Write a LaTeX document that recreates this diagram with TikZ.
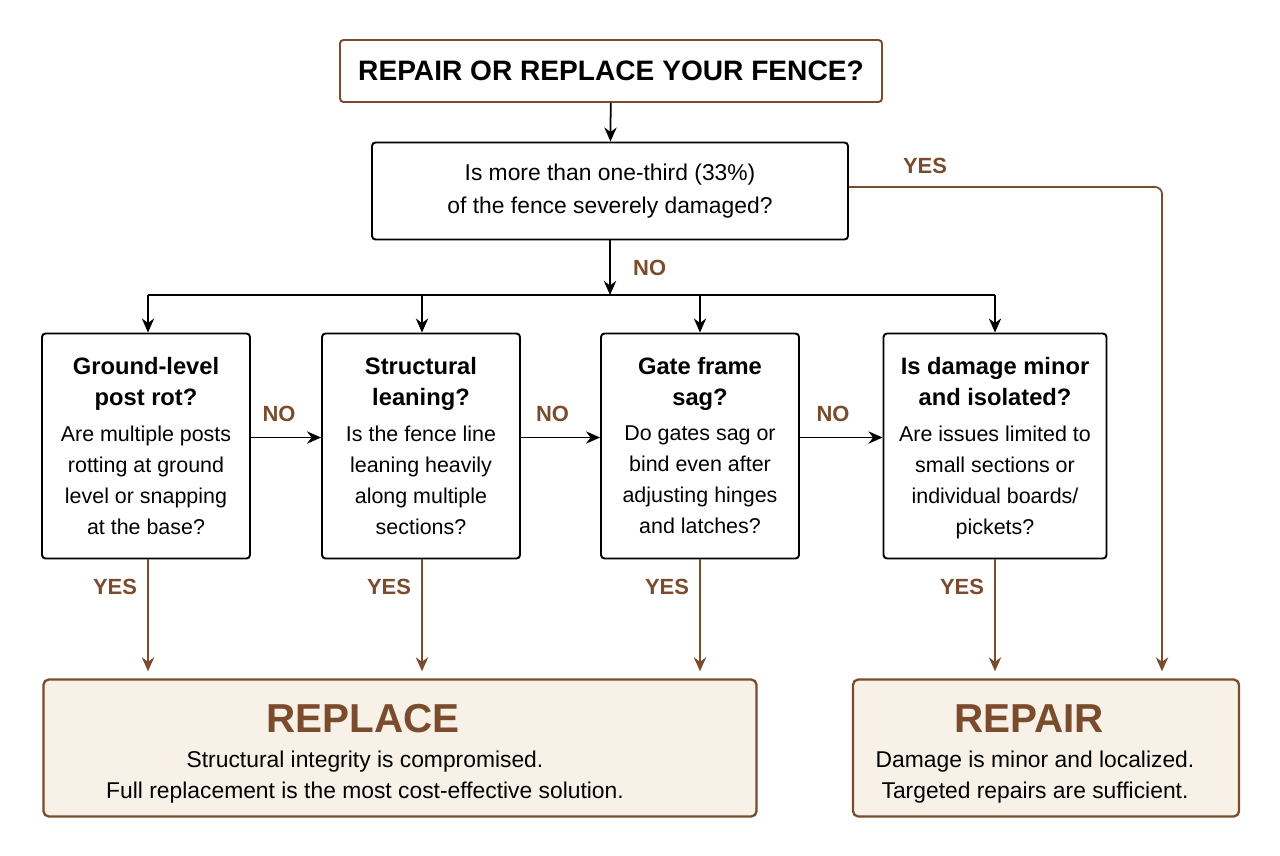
\documentclass[tikz,border=0pt]{standalone}
\usepackage{fontspec}
\setmainfont{Liberation Sans}
\usetikzlibrary{arrows.meta,positioning}
\definecolor{fencebrown}{HTML}{7A4B2C}
\definecolor{fencefill}{HTML}{F8F1E7}
\begin{document}
\begin{tikzpicture}[
    x=0.02cm, y=-0.02cm, % 1px of the layout
    font=\fontsize{13}{19}\selectfont,
    arr/.style={-{Stealth[length=8pt,width=7pt]}, line width=1pt},
    qbox/.style={draw, line width=1.1pt, rounded corners=2pt, align=center, inner sep=0pt},
    endbox/.style={draw=fencebrown, fill=fencefill, line width=1.3pt, rounded corners=3pt, inner sep=0pt},
    lab/.style={text=fencebrown, font=\fontsize{12.5}{15}\selectfont\bfseries}
    ]
    % --- page frame ---
    \useasboundingbox (0,0) rectangle (1280,855);

    % 1. title and first question
    \node[qbox, draw=fencebrown, minimum width=542*0.02cm, minimum height=62*0.02cm,
          font=\fontsize{16}{18}\selectfont\bfseries] (title) at (611,71) {REPAIR OR REPLACE YOUR FENCE?};
    \node[qbox, minimum width=476*0.02cm, minimum height=97*0.02cm] (third) at (610,191)
        {Is more than one-third (33\%)\\of the fence severely damaged?};
    \draw[arr] (title) -- (third);

    % 2. the four checks
    \foreach \name/\cx/\w/\head/\body in {
        rot/146/208/{Ground-level\\post rot?}/{Are multiple posts\\rotting at ground\\level or snapping\\at the base?},
        lean/421/198/{Structural\\leaning?}/{Is the fence line\\leaning heavily\\along multiple\\sections?},
        gate/700/198/{Gate frame\\sag?}/{Do gates sag or\\bind even after\\adjusting hinges\\and latches?},
        minor/995/223/{Is damage minor\\and isolated?}/{Are issues limited to\\small sections or\\individual boards/\\pickets?}} {
        \node[qbox, minimum width=\w*0.02cm, minimum height=225*0.02cm] (\name) at (\cx,446) {};
        \node[align=center, anchor=north, font=\fontsize{13.5}{17.6}\selectfont\bfseries] at (\cx,351) {\head};
        \node[align=center, anchor=north, font=\fontsize{12.2}{17.6}\selectfont] at (\cx,420) {\body};
    }

    % 3. NO branch to the checks
    \coordinate (bus) at (610,295);
    \draw[arr] (third) -- (bus);
    \node[lab, right] at (627,268) {NO};
    \draw[line width=1pt] (148,295) -- (995,295);
    \foreach \name/\cx in {rot/148, lean/422, gate/700, minor/995}
        \draw[arr] (\cx,295) -- (\name.north -| \cx,0);

    % NO links between the checks
    \foreach \a/\b in {rot/lean, lean/gate, gate/minor} {
        \draw[arr] ([yshift=-2.1cm]\a.north east) -- ([yshift=-2.1cm]\b.north west)
            node[lab, pos=0.4, above=5pt] {NO};
    }

    % 4. outcomes
    \node[endbox, minimum width=713*0.02cm, minimum height=137*0.02cm] (replace) at (400,748) {};
    \node[text=fencebrown, font=\fontsize{23}{25}\selectfont\bfseries] at (363,719) {REPLACE};
    \node[align=center, font=\fontsize{13}{17.5}\selectfont] at (365,777)
        {Structural integrity is compromised.\\Full replacement is the most cost-effective solution.};
    \node[endbox, minimum width=386*0.02cm, minimum height=137*0.02cm] (repair) at (1046,748) {};
    \node[text=fencebrown, font=\fontsize{23}{25}\selectfont\bfseries] at (1029,719) {REPAIR};
    \node[align=center, font=\fontsize{13}{17.5}\selectfont] at (1035,777)
        {Damage is minor and localized.\\Targeted repairs are sufficient.};

    % YES arrows down
    \foreach \name/\cx/\target in {rot/148/replace, lean/422/replace, gate/700/replace, minor/995/repair} {
        \draw[arr, fencebrown] (\name.south -| \cx,0) -- ([yshift=4pt]\target.north -| \cx,0);
        \node[lab] at (\cx-33,587) {YES};
    }
    \draw[arr, fencebrown, rounded corners=4pt] (third.east |- 0,187) -- (1162,187) -- ([yshift=4pt]repair.north -| 1162,0);
    \node[lab] at (925,166) {YES};
\end{tikzpicture}
\end{document}
